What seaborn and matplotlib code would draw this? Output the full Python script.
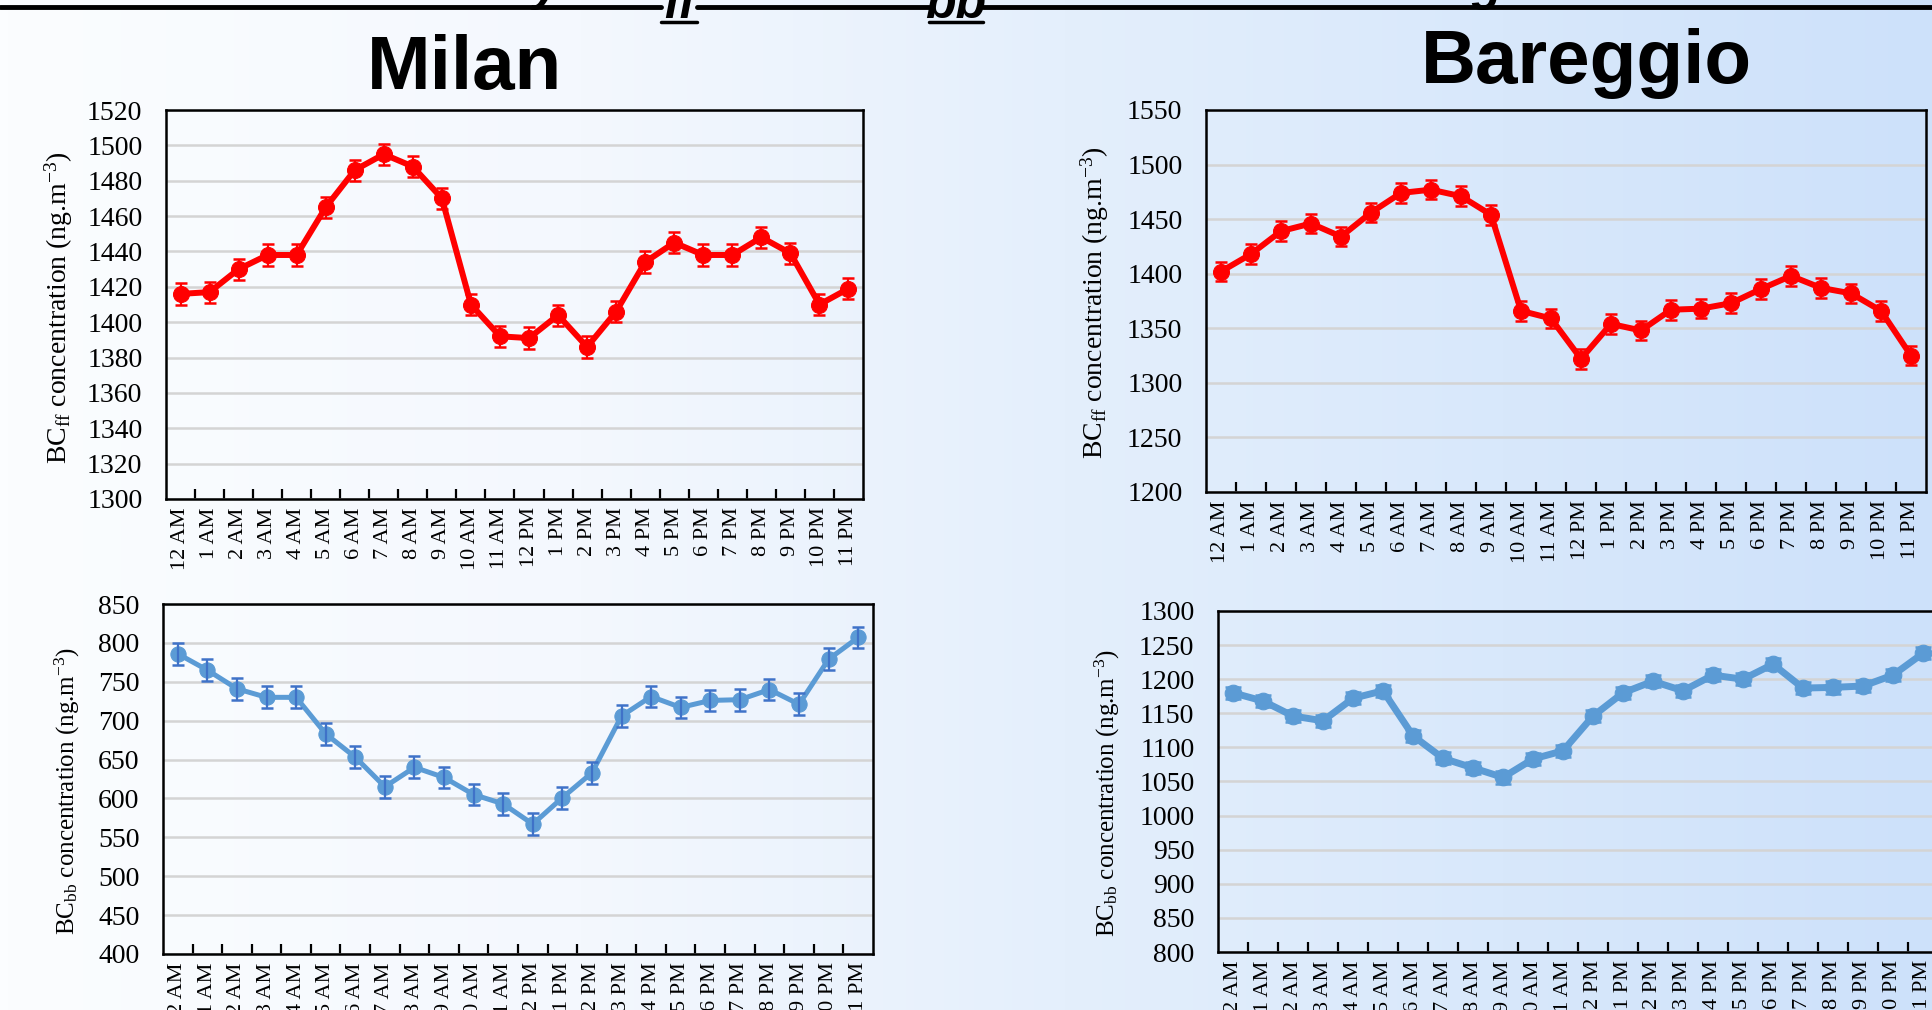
import numpy as np
import pandas as pd
import matplotlib
matplotlib.use("Agg")
import matplotlib.pyplot as plt
import seaborn as sns
from matplotlib.colors import LinearSegmentedColormap
from matplotlib.lines import Line2D
from matplotlib.ticker import MultipleLocator, FixedLocator

# ---- data -------------------------------------------------------------
hours = ["12 AM", "1 AM", "2 AM", "3 AM", "4 AM", "5 AM", "6 AM", "7 AM",
         "8 AM", "9 AM", "10 AM", "11 AM", "12 PM", "1 PM", "2 PM", "3 PM",
         "4 PM", "5 PM", "6 PM", "7 PM", "8 PM", "9 PM", "10 PM", "11 PM"]

milan_ff = [1416, 1417, 1430, 1438, 1438, 1465, 1486, 1495, 1488, 1470, 1410, 1392,
            1391, 1404, 1386, 1406, 1434, 1445, 1438, 1438, 1448, 1439, 1410, 1419]
milan_ff_err = [6] * 24

bareggio_ff = [1402, 1418, 1439, 1446, 1434, 1456, 1474, 1477, 1471, 1454, 1366, 1359,
               1322, 1354, 1348, 1367, 1368, 1373, 1386, 1398, 1387, 1382, 1366, 1325]
bareggio_ff_err = [9] * 24

milan_bb = [786, 765, 741, 730, 730, 683, 653, 615, 640, 627, 605, 593,
            567, 601, 633, 706, 731, 717, 726, 727, 740, 721, 779, 807]
milan_bb_err = [14] * 24

bareggio_bb = [1180, 1168, 1146, 1139, 1172, 1183, 1117, 1084, 1070, 1056, 1083, 1095,
               1146, 1180, 1197, 1183, 1206, 1200, 1222, 1187, 1188, 1190, 1206, 1238]
bareggio_bb_err = [9] * 24

sites = ["Milan", "Bareggio"]

# ---- style ------------------------------------------------------------
sns.set_theme(style="white")
plt.rcParams["font.family"] = ["Liberation Serif", "DejaVu Serif"]
plt.rcParams["mathtext.fontset"] = "custom"
plt.rcParams["mathtext.rm"] = "Liberation Serif"
plt.rcParams["mathtext.it"] = "Liberation Serif:italic"
for key in ["text.color", "axes.labelcolor", "xtick.color", "ytick.color"]:
    plt.rcParams[key] = "black"

W, H = 1933, 1010
fig = plt.figure(figsize=(W / 100, H / 100), dpi=100)

# horizontal white-to-blue backdrop
bg = fig.add_axes([0, 0, 1, 1], zorder=-10)
cmap = LinearSegmentedColormap.from_list(
    "backdrop",
    [(0.0, "#fbfdff"), (0.30, "#f4f8fe"), (0.55, "#e4effc"),
     (0.78, "#d8e8fb"), (1.0, "#cde1fa")])
bg.imshow(np.linspace(0, 1, 512)[None, :], aspect="auto", cmap=cmap,
          extent=[0, 1, 0, 1])
bg.set_axis_off()


def px_axes(left, top, right, bottom):
    return fig.add_axes([left / W, 1 - bottom / H, (right - left) / W, (bottom - top) / H])


def panel(ax, values, errors, color, ecolor, ylim, ystep, lw=3.6, ms=11, cap=4.5):
    df = pd.DataFrame({"hour": np.arange(len(hours)), "value": values, "err": errors})
    sns.lineplot(data=df, x="hour", y="value", ax=ax, color=color, lw=lw,
                 marker="o", markersize=ms, markeredgecolor=color, zorder=4)
    ax.errorbar(df["hour"], df["value"], yerr=df["err"], fmt="none", ecolor=ecolor,
                elinewidth=1.6, capsize=cap, capthick=1.8, zorder=5)
    ax.set_xlim(-0.5, len(hours) - 0.5)
    ax.set_ylim(*ylim)
    ax.yaxis.set_major_locator(MultipleLocator(ystep))
    ax.set_xticks(np.arange(len(hours)))
    ax.set_xticklabels(hours, rotation=90)
    ax.xaxis.set_minor_locator(FixedLocator(np.arange(0.5, len(hours) - 0.5, 1)))
    ax.tick_params(axis="x", which="major", length=0, pad=6, labelsize=16)
    ax.tick_params(axis="x", which="minor", bottom=True, length=7, width=1.6,
                   direction="in", color="black")
    ax.tick_params(axis="y", length=0, pad=17, labelsize=20)
    ax.grid(axis="y", color="#d4d4d4", lw=1.8)
    ax.grid(axis="x", visible=False)
    ax.set_axisbelow(True)
    for s in ax.spines.values():
        s.set_visible(True)
        s.set_color("black")
        s.set_linewidth(1.8)
    ax.set_facecolor("none")
    ax.set_xlabel("")
    ax.set_ylabel("")


red, blue, blue_err = "#ff0000", "#5b9bd5", "#3f72c8"

ax1 = px_axes(166, 110, 863, 499)
panel(ax1, milan_ff, milan_ff_err, red, red, (1300, 1520), 20, lw=4.3, ms=11.5)
ax2 = px_axes(1206, 110, 1926, 492)
panel(ax2, bareggio_ff, bareggio_ff_err, red, red, (1200, 1550), 50, lw=4.3, ms=11.5)
ax3 = px_axes(163, 604, 873, 954)
panel(ax3, milan_bb, milan_bb_err, blue, blue_err, (400, 850), 50)
ax4 = px_axes(1218, 611, 1938, 952)
panel(ax4, bareggio_bb, bareggio_bb_err, blue, blue, (800, 1300), 50,
      lw=5.0, ms=12, cap=5.5)

# axis titles
lab_ff = r"BC$\mathrm{_{ff}}$ concentration (ng.m$\mathrm{^{-3}}$)"
lab_bb = r"BC$\mathrm{_{bb}}$ concentration (ng.m$\mathrm{^{-3}}$)"
for x, y, txt, fs in [(59, 308, lab_ff, 20), (1095, 303, lab_ff, 20),
                      (67, 791, lab_bb, 18), (1107, 793, lab_bb, 18)]:
    fig.text(x / W, 1 - y / H, txt, rotation=90, ha="center", va="center", fontsize=fs)

# site headings
for x, y, name in [(465, 89, sites[0]), (1586, 83, sites[1])]:
    fig.text(x / W, 1 - y / H, name, ha="center", va="baseline", fontsize=55,
             fontweight="bold", color="black", family=["Liberation Sans", "DejaVu Sans"])

# rule along the top edge, broken around the subscript glyphs
rule_y = 1 - 7 / H
for x0, x1 in [(0, 661), (697, 929), (983, W)]:
    fig.add_artist(Line2D([x0 / W, x1 / W], [rule_y, rule_y], color="black", lw=3.5,
                          transform=fig.transFigure))
for x0, x1, txt in [(661, 697, "ff"), (929, 983, "bb")]:
    fig.text((x0 + x1) / 2 / W, 1 - 18 / H, txt, ha="center", va="baseline", fontsize=36,
             fontweight="bold", fontstyle="italic", color="black",
             family=["Liberation Sans", "DejaVu Sans"])
    fig.add_artist(Line2D([x0 / W, x1 / W], [1 - 22 / H] * 2, color="black", lw=2.5,
                          transform=fig.transFigure))
for x, txt in [(546, "y"), (1486, "g")]:
    fig.text(x / W, 1.0, txt, ha="center", va="baseline", fontsize=36, color="black",
             fontweight="bold", fontstyle="italic", family=["Liberation Sans", "DejaVu Sans"])

fig.savefig("out.png", dpi=100)
